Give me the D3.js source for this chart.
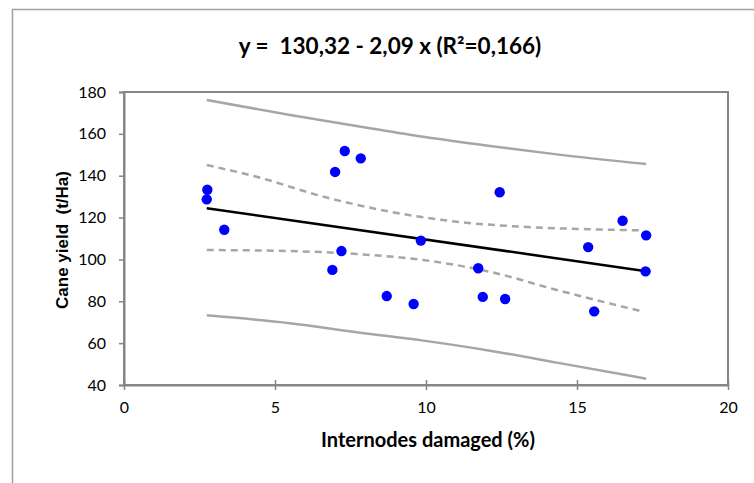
<!DOCTYPE html>
<html><head><meta charset="utf-8">
<script src="https://cdn.jsdelivr.net/npm/d3@7"></script>
<style>html,body{margin:0;padding:0;background:#fff;}svg{display:block;} text{white-space:pre;}</style>
</head><body>
<svg id="c" width="754" height="483"></svg>
<script>
const damaged = [2.76, 2.74, 3.32, 7.31, 7.84, 6.99, 7.20, 6.90, 8.70, 9.59, 9.83, 11.73, 12.44, 16.51, 17.29, 15.37, 11.88, 12.62, 15.57, 17.27];
const yieldVals = [133.3, 128.7, 114.2, 151.8, 148.3, 141.8, 104.0, 95.0, 82.5, 78.7, 109.0, 95.8, 132.1, 118.5, 111.5, 105.9, 82.1, 81.1, 75.2, 94.3];
const fitX = [2.74, 17.29];
const fitY = [124.5, 94.4];
const predX = [2.74, 5.50, 7.70, 9.91, 12.12, 14.33, 17.29];
const predUpper = [176.2, 169.0, 163.8, 158.6, 154.2, 150.2, 145.6];
const predLower = [73.3, 69.5, 65.2, 61.2, 56.4, 50.7, 43.0];
const confX = [2.74, 4.39, 6.60, 8.81, 11.02, 13.22, 15.43, 17.20];
const confUpper = [145.1, 139.5, 130.0, 122.8, 118.0, 115.6, 114.4, 113.9];
const confLowerX = [2.74, 5.50, 7.70, 9.91, 12.12, 14.33, 17.20];
const confLower = [104.5, 104.0, 102.6, 99.7, 94.1, 85.4, 75.0];
const xTicks = [0, 5, 10, 15, 20];
const yTicks = [40, 60, 80, 100, 120, 140, 160, 180];
const title = "y =  130,32 - 2,09 x (R²=0,166)";
const xTitle = "Internodes damaged (%)";
const yTitle = "Cane yield  (t/Ha)";

const svg = d3.select("#c");
const L = 124, R = 728, T = 92, B = 385;
const x = d3.scaleLinear().domain([0, 20]).range([L, R]);
const y = d3.scaleLinear().domain([40, 180]).range([B, T]);
const axisColor = "#868686";
const font = "Lato, 'Open Sans', sans-serif";

// outer chart border
svg.append("rect").attr("x", 12.5).attr("y", 9.5).attr("width", 760).attr("height", 480)
  .attr("fill", "none").attr("stroke", "#a0a0a0").attr("stroke-width", 1.5);

// plot area border
svg.append("rect").attr("x", L).attr("y", T).attr("width", R - L).attr("height", B - T)
  .attr("fill", "none").attr("stroke", axisColor).attr("stroke-width", 2);

// axes
const xAxis = svg.append("g").attr("transform", `translate(0,${B})`)
  .call(d3.axisBottom(x).tickValues(xTicks).tickSize(0).tickPadding(17).tickFormat(d3.format("d")));
xAxis.select(".domain").attr("stroke", axisColor).attr("stroke-width", 2);
xAxis.selectAll(".tick").append("line").attr("y1", -5).attr("y2", 5).attr("stroke", axisColor).attr("stroke-width", 1.5);
xAxis.selectAll("text").attr("font-family", font).attr("font-size", 16).attr("fill", "#000");

const yAxis = svg.append("g").attr("transform", `translate(${L},0)`)
  .call(d3.axisLeft(y).tickValues(yTicks).tickSize(5).tickPadding(13));
yAxis.select(".domain").attr("stroke", axisColor).attr("stroke-width", 2);
yAxis.selectAll(".tick line").attr("stroke", axisColor).attr("stroke-width", 1.5);
yAxis.selectAll("text").attr("font-family", font).attr("font-size", 16).attr("fill", "#000");

// bands
const line = d3.line().x(d => x(d[0])).y(d => y(d[1])).curve(d3.curveMonotoneX);
const bands = [
  {xs: predX, v: predUpper, dash: null},
  {xs: predX, v: predLower, dash: null},
  {xs: confX, v: confUpper, dash: "7,5"},
  {xs: confLowerX, v: confLower, dash: "7,5"}
];
bands.forEach(b => {
  svg.append("path").datum(b.xs.map((d, i) => [d, b.v[i]]))
    .attr("d", line).attr("fill", "none").attr("stroke", "#a6a6a6").attr("stroke-width", 2.5)
    .attr("stroke-dasharray", b.dash);
});

// fit line
svg.append("path").datum(fitX.map((d, i) => [d, fitY[i]]))
  .attr("d", d3.line().x(d => x(d[0])).y(d => y(d[1])))
  .attr("fill", "none").attr("stroke", "#000").attr("stroke-width", 2.5);

// points
svg.append("g").selectAll("circle").data(damaged.map((d, i) => [d, yieldVals[i]]))
  .join("circle").attr("cx", d => x(d[0])).attr("cy", d => y(d[1])).attr("r", 5.2)
  .attr("fill", "#0000ff");

// titles
svg.append("text").attr("x", 390).attr("y", 54).attr("text-anchor", "middle")
  .attr("font-family", font).attr("font-weight", "bold").attr("font-size", 22.5)
  .text(title);
svg.append("text").attr("x", 428).attr("y", 447).attr("text-anchor", "middle")
  .attr("font-family", font).attr("font-weight", "bold").attr("font-size", 20)
  .text(xTitle);
svg.append("text").attr("transform", "translate(68,240) rotate(-90)").attr("text-anchor", "middle")
  .attr("font-family", "'Liberation Sans', Arial, sans-serif").attr("font-weight", "bold").attr("font-size", 17)
  .text(yTitle);
</script>
</body></html>
